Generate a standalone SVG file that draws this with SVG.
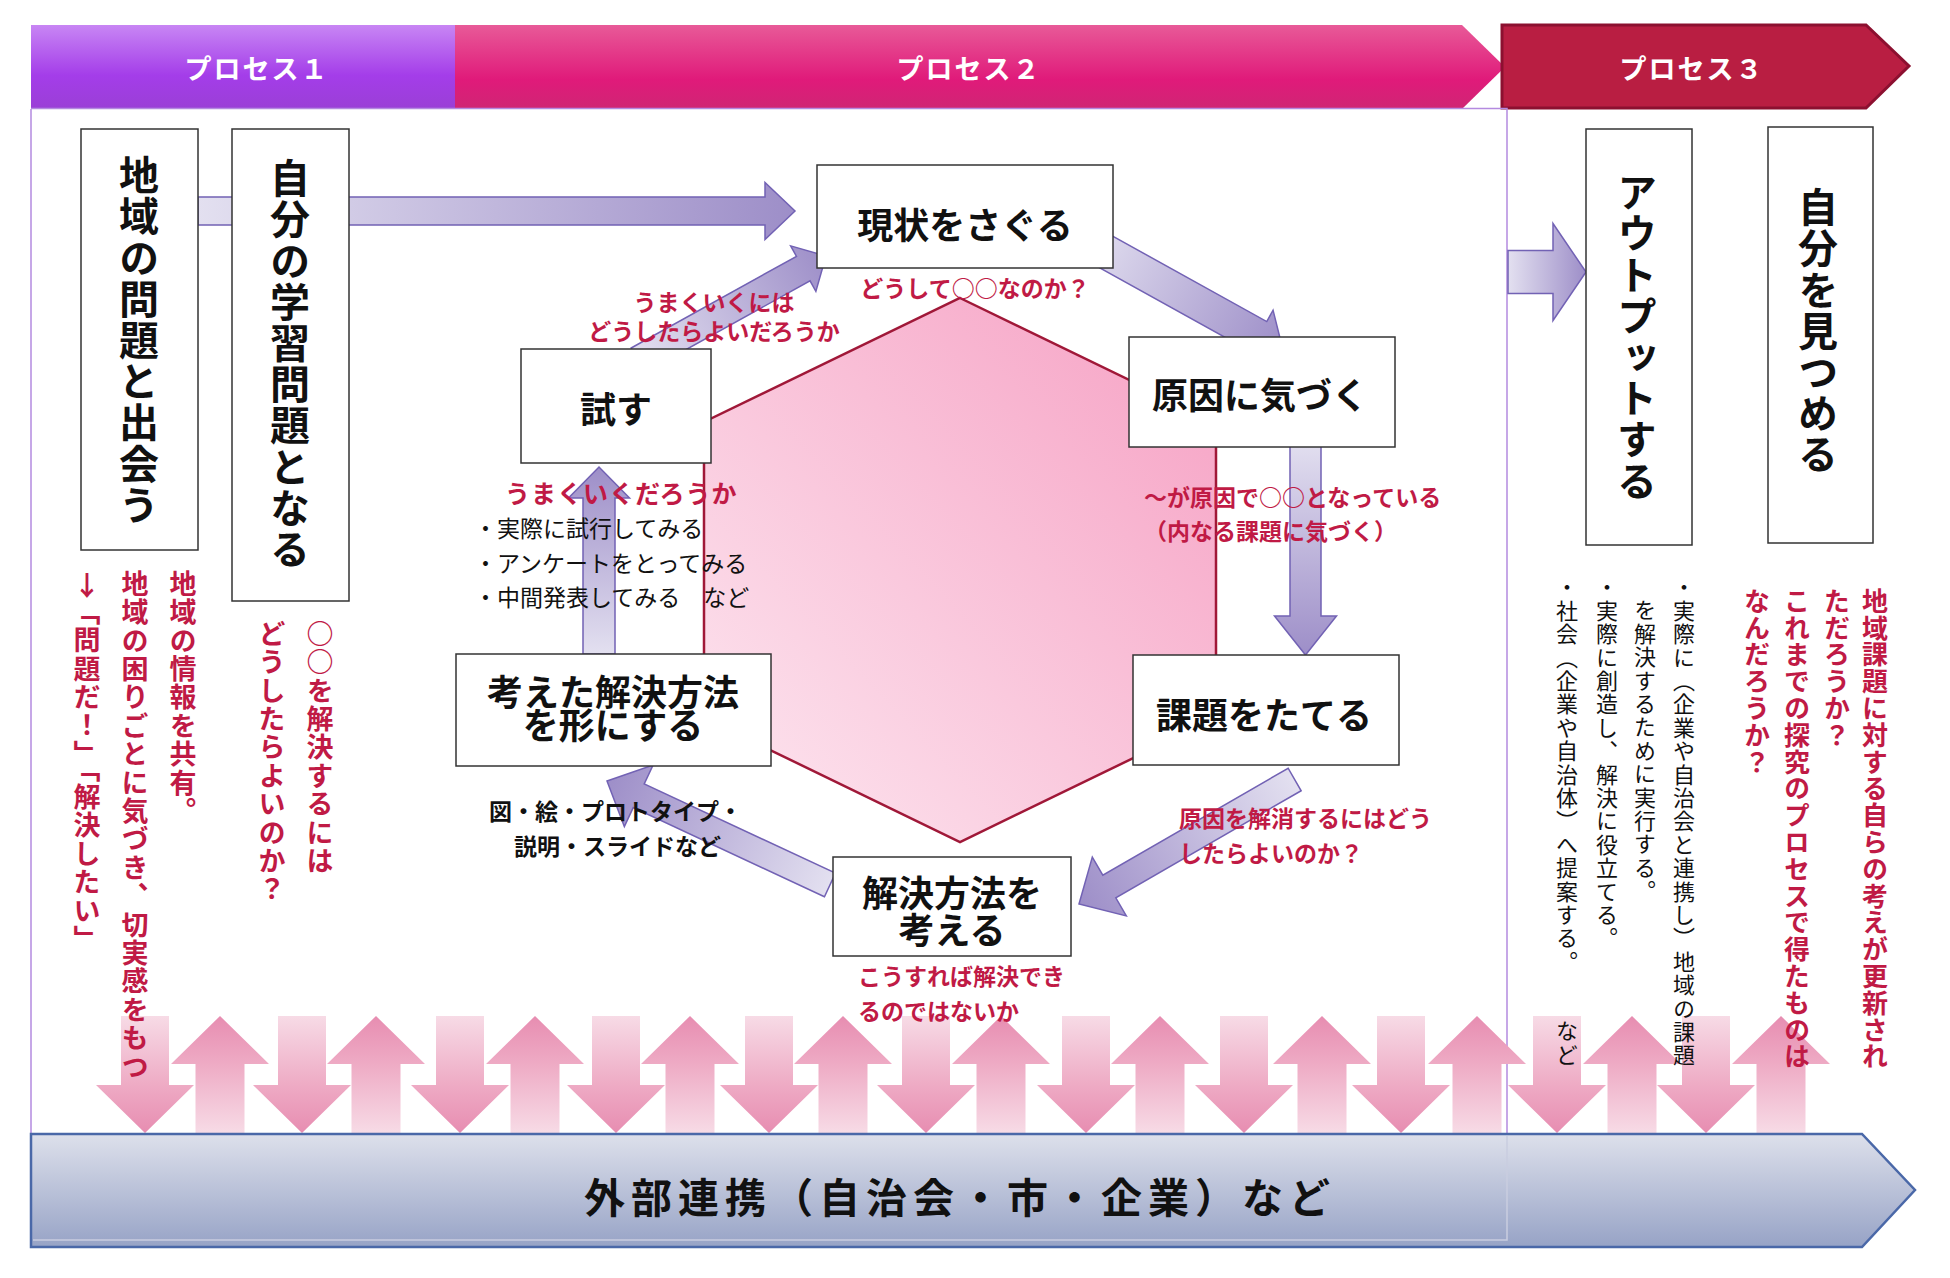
<svg xmlns="http://www.w3.org/2000/svg" width="1950" height="1278" viewBox="0 0 1950 1278">
<style>
.t{font-family:"Noto Sans CJK JP","Noto Sans",sans-serif}
.vt{writing-mode:vertical-rl}
.box{fill:#fff;stroke:#333;stroke-width:1.5}
.node{font-size:36px;font-weight:700;fill:#111;text-anchor:middle;dominant-baseline:central}
.vnode{font-size:40px;font-weight:700;fill:#111;letter-spacing:1.2px}
.red{fill:#c01a45;font-weight:700}
.lbl{font-size:23px;dominant-baseline:central}
.blk{fill:#111}
.hdr{font-size:27px;font-weight:700;fill:#fff;text-anchor:middle;dominant-baseline:central;letter-spacing:2px}
.parr{fill:url(#gArr);stroke:#7262b4;stroke-width:1.5}
.vred{font-size:27px;letter-spacing:1.4px}
.vred2{font-size:26px;letter-spacing:0.8px}
.vblk{font-size:22px;letter-spacing:1.4px;fill:#111}
</style>
<defs>
<linearGradient id="gP1" x1="0" y1="0" x2="0" y2="1"><stop offset="0" stop-color="#c886f4"/><stop offset="0.6" stop-color="#a43de9"/><stop offset="1" stop-color="#9a3fd6"/></linearGradient>
<linearGradient id="gP2" x1="0" y1="0" x2="0" y2="1"><stop offset="0" stop-color="#e85a98"/><stop offset="0.65" stop-color="#e01a7a"/><stop offset="1" stop-color="#cf2674"/></linearGradient>
<linearGradient id="gBar" x1="0" y1="0" x2="0" y2="1"><stop offset="0" stop-color="#dde0eb"/><stop offset="1" stop-color="#97a3c6"/></linearGradient>
<linearGradient id="gHex" x1="0" y1="1" x2="1" y2="0"><stop offset="0" stop-color="#fde8f1"/><stop offset="1" stop-color="#f6a0c3"/></linearGradient>
<linearGradient id="gArr" x1="0" y1="0" x2="1" y2="0"><stop offset="0" stop-color="#e3e0f0"/><stop offset="1" stop-color="#9d8ec8"/></linearGradient>
<linearGradient id="gDown" gradientUnits="userSpaceOnUse" x1="0" y1="1016" x2="0" y2="1133"><stop offset="0" stop-color="#f7dbe6"/><stop offset="0.6" stop-color="#eeaac4"/><stop offset="1" stop-color="#e78db1"/></linearGradient>
<linearGradient id="gUp" gradientUnits="userSpaceOnUse" x1="0" y1="1016" x2="0" y2="1133"><stop offset="0" stop-color="#e78db1"/><stop offset="0.4" stop-color="#eeaac4"/><stop offset="1" stop-color="#f7dbe6"/></linearGradient>
<polygon id="dn" fill="url(#gDown)" points="-24,1016 24,1016 24,1085 49,1085 0,1133 -49,1085 -24,1085"/>
<polygon id="up" fill="url(#gUp)" points="0,1016 49,1064 24.5,1064 24.5,1133 -24.5,1133 -24.5,1064 -49,1064"/>
</defs>
<rect width="1950" height="1278" fill="#fff"/>

<g id="header">
<rect x="31" y="25" width="424" height="84" fill="url(#gP1)"/>
<polygon points="455,25 1462,25 1505,67 1462,109 455,109" fill="url(#gP2)"/>
<polygon points="1502,25 1866,25 1909,66 1866,108 1502,108" fill="#b91e42" stroke="#8c1030" stroke-width="3"/>
<text class="t hdr" x="257" y="67">プロセス１</text>
<text class="t hdr" x="969" y="67">プロセス２</text>
<text class="t hdr" x="1692" y="67">プロセス３</text>
</g>

<g id="frame">
<path d="M31,109 V1134 M31,108.5 H1507 V1134" fill="none" stroke="#b48ae0" stroke-width="1.5"/>
</g>

<g id="exchange-arrows">
<use href="#dn" x="145"/><use href="#dn" x="302"/><use href="#dn" x="460"/><use href="#dn" x="616"/><use href="#dn" x="769"/><use href="#dn" x="926"/><use href="#dn" x="1086"/><use href="#dn" x="1244"/><use href="#dn" x="1401"/><use href="#dn" x="1557"/><use href="#dn" x="1706"/>
<use href="#up" x="220"/><use href="#up" x="376"/><use href="#up" x="535"/><use href="#up" x="690"/><use href="#up" x="843"/><use href="#up" x="1001"/><use href="#up" x="1160"/><use href="#up" x="1322"/><use href="#up" x="1477"/><use href="#up" x="1632"/><use href="#up" x="1781"/>
</g>

<g id="external">
<polygon points="31,1134 1862,1134 1915,1190 1862,1247 31,1247" fill="url(#gBar)" stroke="#4a68a8" stroke-width="2.5"/>
<path d="M1507,1136 V1240 H33" fill="none" stroke="#c9cde0" stroke-width="1.5"/>
<text class="t" x="960" y="1195" text-anchor="middle" dominant-baseline="central" font-size="41" font-weight="700" letter-spacing="6" fill="#111">外部連携（自治会・市・企業）など</text>
</g>

<g id="hexagon">
<polygon points="960,298 1216,422 1216,718 960,842 704,718 704,422" fill="url(#gHex)" stroke="#a01838" stroke-width="2.5"/>
</g>

<g id="connectors">
<polygon class="parr" transform="translate(795,211)" points="-597,-14 -30,-14 -30,-28.5 0,0 -30,28.5 -30,14 -597,14"/>
<polygon class="parr" transform="translate(1283,350) rotate(29)" points="-230,-17 -28,-17 -28,-30 0,0 -28,30 -28,17 -230,17"/>
<polygon class="parr" transform="translate(1305.5,655) rotate(90)" points="-215,-15.5 -39,-15.5 -39,-31 0,0 -39,31 -39,15.5 -215,15.5"/>
<polygon class="parr" transform="translate(1079,904) rotate(150)" points="-249,-13 -35,-13 -35,-34 0,0 -35,34 -35,13 -249,13"/>
<polygon class="parr" transform="translate(607,781) rotate(205)" points="-246,-13 -35,-13 -35,-34 0,0 -35,34 -35,13 -246,13"/>
<polygon class="parr" transform="translate(826,256) rotate(-29)" points="-215,-14 -26,-14 -26,-26 0,0 -26,26 -26,14 -215,14"/>
<polygon class="parr" transform="translate(599,467) rotate(-90)" points="-187,-16 -31,-16 -31,-30.5 0,0 -31,30.5 -31,16 -187,16"/>
<polygon class="parr" transform="translate(1586,272)" points="-78,-21.5 -33,-21.5 -33,-48.5 0,0 -33,48.5 -33,21.5 -78,21.5"/>
</g>

<g id="n-chiiki">
<rect class="box" x="81" y="129" width="117" height="421"/>
<text class="t vt vnode" x="139" y="155">地域の問題と出会う</text>
</g>
<g id="n-jibun-gakushu">
<rect class="box" x="232" y="129" width="117" height="472"/>
<text class="t vt vnode" x="290" y="158">自分の学習問題となる</text>
</g>

<g id="n-genjo">
<rect class="box" x="817" y="165" width="296" height="103"/>
<text class="t node" x="965" y="223">現状をさぐる</text>
</g>
<g id="n-genin">
<rect class="box" x="1129" y="337" width="266" height="110"/>
<text class="t node" x="1260" y="393">原因に気づく</text>
</g>
<g id="n-kadai">
<rect class="box" x="1133" y="655" width="266" height="110"/>
<text class="t node" x="1264" y="713">課題をたてる</text>
</g>
<g id="n-kaiketsu">
<rect class="box" x="833" y="857" width="238" height="99"/>
<text class="t node" x="952" y="891">解決方法を</text>
<text class="t node" x="952" y="928">考える</text>
</g>
<g id="n-katachi">
<rect class="box" x="456" y="654" width="315" height="112"/>
<text class="t node" x="613" y="690">考えた解決方法</text>
<text class="t node" x="613" y="723">を形にする</text>
</g>
<g id="n-tamesu">
<rect class="box" x="521" y="349" width="190" height="114"/>
<text class="t node" x="616" y="407">試す</text>
</g>
<g id="n-output">
<rect class="box" x="1586" y="129" width="106" height="416"/>
<text class="t vt vnode" x="1637" y="172">アウトプットする</text>
</g>
<g id="n-mitsumeru">
<rect class="box" x="1768" y="127" width="105" height="416"/>
<text class="t vt vnode" x="1818" y="187">自分を見つめる</text>
</g>

<g id="labels">
<text class="t red lbl" x="714" y="301" text-anchor="middle">うまくいくには</text>
<text class="t red lbl" x="714" y="330" text-anchor="middle">どうしたらよいだろうか</text>
<text class="t red lbl" x="975" y="287" text-anchor="middle">どうして○○なのか？</text>
<text class="t red lbl" x="1144" y="496">～が原因で○○となっている</text>
<text class="t red lbl" x="1144" y="530">（内なる課題に気づく）</text>
<text class="t red lbl" x="1179" y="817">原因を解消するにはどう</text>
<text class="t red lbl" x="1179" y="852">したらよいのか？</text>
<text class="t red lbl" x="858" y="975">こうすれば解決でき</text>
<text class="t red lbl" x="858" y="1010">るのではないか</text>
<text class="t red" x="505" y="492" font-size="25" letter-spacing="1" dominant-baseline="central">うまくいくだろうか</text>
<text class="t blk lbl" x="474" y="527" font-size="22.5">・実際に試行してみる</text>
<text class="t blk lbl" x="474" y="562" font-size="22.5">・アンケートをとってみる</text>
<text class="t blk lbl" x="474" y="596" font-size="22.5">・中間発表してみる　など</text>
<text class="t blk lbl" x="489" y="810" font-weight="700">図・絵・プロトタイプ・</text>
<text class="t blk lbl" x="514" y="845" font-weight="700">説明・スライドなど</text>

<text class="t vt red vred" x="320" y="620">○○を解決するには</text>
<text class="t vt red vred" x="272" y="620">どうしたらよいのか？</text>
<text class="t vt red vred" x="183" y="570">地域の情報を共有。</text>
<text class="t vt red vred" x="135" y="570">地域の困りごとに気づき、切実感をもつ</text>
<text class="t red" x="87" y="584" font-size="27" text-anchor="middle" dominant-baseline="central">↓</text>
<text class="t vt red vred" x="87" y="598">「問題だ！」「解決したい」</text>

<text class="t vt vblk" x="1684" y="576">・実際に（企業や自治会と連携し）地域の課題</text>
<text class="t vt vblk" x="1645" y="599">を解決するために実行する。</text>
<text class="t vt vblk" x="1607" y="576">・実際に創造し、解決に役立てる。</text>
<text class="t vt vblk" x="1567" y="576">・社会（企業や自治体）へ提案する。</text>
<text class="t vt vblk" x="1567" y="1020">など</text>

<text class="t vt red vred2" x="1875" y="588">地域課題に対する自らの考えが更新され</text>
<text class="t vt red vred2" x="1837" y="588">ただろうか？</text>
<text class="t vt red vred2" x="1797" y="588">これまでの探究のプロセスで得たものは</text>
<text class="t vt red vred2" x="1757" y="588">なんだろうか？</text>
</g>
</svg>
